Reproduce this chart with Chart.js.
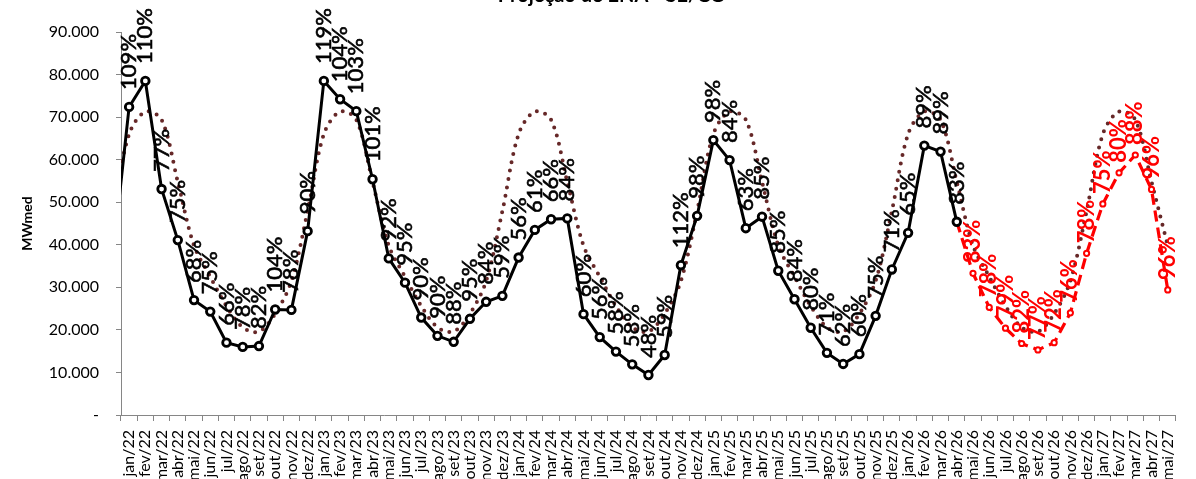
<!DOCTYPE html>
<html>
<head>
<meta charset="utf-8">
<script src="https://cdn.jsdelivr.net/npm/chart.js@4.4.1/dist/chart.umd.min.js"></script>
<style>
  html, body { margin: 0; padding: 0; background: #fff; overflow: hidden; }
  canvas { display: block; }
</style>
</head>
<body>
<canvas id="ena-chart" width="1196" height="479"></canvas>
<script>
// meses (dez/21 fica fora da area, so para a linha entrar pela borda)
const meses = [
  'dez/21',
  'jan/22', 'fev/22', 'mar/22', 'abr/22', 'mai/22', 'jun/22', 'jul/22', 'ago/22', 'set/22', 'out/22', 'nov/22', 'dez/22',
  'jan/23', 'fev/23', 'mar/23', 'abr/23', 'mai/23', 'jun/23', 'jul/23', 'ago/23', 'set/23', 'out/23', 'nov/23', 'dez/23',
  'jan/24', 'fev/24', 'mar/24', 'abr/24', 'mai/24', 'jun/24', 'jul/24', 'ago/24', 'set/24', 'out/24', 'nov/24', 'dez/24',
  'jan/25', 'fev/25', 'mar/25', 'abr/25', 'mai/25', 'jun/25', 'jul/25', 'ago/25', 'set/25', 'out/25', 'nov/25', 'dez/25',
  'jan/26', 'fev/26', 'mar/26', 'abr/26', 'mai/26', 'jun/26', 'jul/26', 'ago/26', 'set/26', 'out/26', 'nov/26', 'dez/26',
  'jan/27', 'fev/27', 'mar/27', 'abr/27', 'mai/27'
];

// ENA verificada, dez/21 .. abr/26 (MWmed)
const enaVerificada = [
  37200,
  72400, 78500, 53100, 41100, 27000, 24300, 17000, 16000, 16200, 24800, 24700, 43200,
  78500, 74200, 71400, 55400, 36800, 31100, 22900, 18600, 17200, 22600, 26600, 28000,
  37000, 43500, 46000, 46200, 23700, 18300, 14900, 11900, 9400, 14100, 35200, 46800,
  64600, 59900, 43900, 46600, 33900, 27200, 20500, 14600, 12000, 14300, 23300, 34200,
  42800, 63300, 61900, 45400
];

// projecao, mai/26 .. mai/27
const enaProjecao = [33300, 25300, 20400, 16800, 15300, 17000, 24000, 38000, 49600, 56900, 61100, 53000, 29400];

// MLT, dez/21 .. mai/27
const enaMLT = [
  47900,
  66000, 71300, 69400, 54800, 39800, 32500, 25600, 20600, 19600, 23800, 31500, 47900,
  66000, 71300, 69400, 54800, 39800, 32500, 25600, 20600, 19600, 23800, 31500, 47900,
  66000, 71300, 69400, 54800, 39800, 32500, 25600, 20600, 19600, 23800, 31500, 47900,
  66000, 71300, 69400, 54800, 39800, 32500, 25600, 20600, 19600, 23800, 31500, 47900,
  66000, 71300, 69400, 54800, 39800, 32500, 25600, 20600, 19600, 23800, 31500, 47900,
  66000, 71300, 69400, 54800, 39800
];

// % da MLT, jan/22 .. abr/26
const pctVerificada = [
  '109%', '110%', '77%', '75%', '68%', '75%', '66%', '78%', '82%', '104%', '78%', '90%',
  '119%', '104%', '103%', '101%', '92%', '95%', '90%', '90%', '88%', '95%', '84%', '59%',
  '56%', '61%', '66%', '84%', '60%', '56%', '58%', '58%', '48%', '59%', '112%', '98%',
  '98%', '84%', '63%', '85%', '85%', '84%', '80%', '71%', '62%', '60%', '75%', '71%',
  '65%', '89%', '89%', '83%'
];

// % da MLT, mai/26 .. mai/27
const pctProjecao = ['83%', '78%', '79%', '82%', '77%', '72%', '76%', '78%', '75%', '80%', '88%', '96%', '96%'];

const ultimoReal = enaVerificada.length - 1;

const dataReal = meses.map((m, i) => i <= ultimoReal ? enaVerificada[i] : null);
const dataProj = meses.map((m, i) => {
  if (i === ultimoReal) return enaVerificada[i];
  if (i > ultimoReal) return enaProjecao[i - ultimoReal - 1];
  return null;
});
const rotReal = meses.map((m, i) => (i >= 1 && i <= ultimoReal) ? pctVerificada[i - 1] : null);
const rotProj = meses.map((m, i) => i > ultimoReal ? pctProjecao[i - ultimoReal - 1] : null);

const rotulos = {
  id: 'rotulos',
  afterDatasetsDraw(chart) {
    const ctx = chart.ctx;
    chart.data.datasets.forEach((ds, di) => {
      if (!ds.rotulos) return;
      const meta = chart.getDatasetMeta(di);
      ctx.save();
      ctx.font = ds.rotuloFonte;
      ctx.fillStyle = ds.rotuloCor;
      ctx.strokeStyle = ds.rotuloCor;
      ctx.lineWidth = ds.rotuloTraco;
      ctx.textAlign = 'left';
      ctx.textBaseline = 'middle';
      meta.data.forEach((pt, i) => {
        const txt = ds.rotulos[i];
        if (!txt) return;
        ctx.save();
        ctx.translate(pt.x, pt.y - ds.rotuloGap);
        ctx.rotate(-Math.PI / 2);
        ctx.fillText(txt, 0, 0);
        if (ds.rotuloTraco) ctx.strokeText(txt, 0, 0);
        ctx.restore();
      });
      ctx.restore();
    });
  },
  afterDraw(chart) {
    // titulo fica quase todo acima da imagem
    const ctx = chart.ctx;
    ctx.save();
    ctx.font = 'bold 20px Lato';
    ctx.fillStyle = '#000';
    ctx.textAlign = 'center';
    ctx.textBaseline = 'alphabetic';
    ctx.fillText('Projeção de ENA - SE/CO', 612, 2);
    ctx.restore();
  }
};

Chart.defaults.font.family = 'Lato';
Chart.defaults.color = '#000';

new Chart(document.getElementById('ena-chart'), {
  type: 'line',
  data: {
    labels: meses,
    datasets: [
      {
        label: 'Verificada',
        data: dataReal,
        borderColor: '#000',
        borderWidth: 3,
        pointRadius: meses.map((m, i) => i === 0 ? 0 : 3.8),
        pointBorderWidth: 2.8,
        pointBackgroundColor: '#fff',
        pointBorderColor: '#000',
        tension: 0,
        rotulos: rotReal,
        rotuloFonte: '22px Lato',
        rotuloCor: '#000',
        rotuloTraco: 0.6,
        rotuloGap: 17
      },
      {
        label: 'Projeção',
        data: dataProj,
        borderColor: '#ff0000',
        borderWidth: 3.2,
        borderDash: [11, 6],
        pointRadius: meses.map((m, i) => i === ultimoReal ? 0 : 2.6),
        pointBorderWidth: 2,
        pointBackgroundColor: '#fff',
        pointBorderColor: '#ff0000',
        tension: 0,
        rotulos: rotProj,
        rotuloFonte: 'bold 22px Lato',
        rotuloCor: '#ff0000',
        rotuloTraco: 0,
        rotuloGap: 10
      },
      {
        label: 'MLT',
        data: enaMLT,
        borderColor: '#662828',
        borderWidth: 4,
        borderDash: [0, 8.5],
        borderCapStyle: 'round',
        pointRadius: 0,
        tension: 0.33
      }
    ]
  },
  options: {
    responsive: false,
    animation: false,
    devicePixelRatio: 1,
    layout: { padding: { top: 32, left: 1, right: 3, bottom: 0 } },
    plugins: {
      legend: { display: false },
      tooltip: { enabled: false },
      title: { display: false }
    },
    scales: {
      x: {
        type: 'category',
        min: 'jan/22',
        offset: true,
        grid: { display: true, drawOnChartArea: false, offset: true, tickLength: 6, color: '#868686' },
        border: { color: '#868686' },
        ticks: { autoSkip: false, minRotation: 90, maxRotation: 90, padding: 9, color: '#000', font: { size: 16 } },
        afterFit(s) { s.height = 64; }
      },
      y: {
        min: 0,
        max: 90000,
        grid: { drawOnChartArea: false, tickLength: 5, color: '#868686' },
        border: { color: '#868686' },
        ticks: {
          stepSize: 10000,
          padding: 17,
          color: '#000',
          font: { size: 16 },
          callback: v => v === 0 ? '-' : String(v).replace(/\B(?=(\d{3})+(?!\d))/g, '.')
        },
        title: { display: true, text: 'MWmed', color: '#000', font: { size: 14, weight: 'bold' }, padding: { top: 18, bottom: 0 } },
        afterFit(s) { s.width = 120; }
      }
    }
  },
  plugins: [rotulos]
});
</script>
</body>
</html>
